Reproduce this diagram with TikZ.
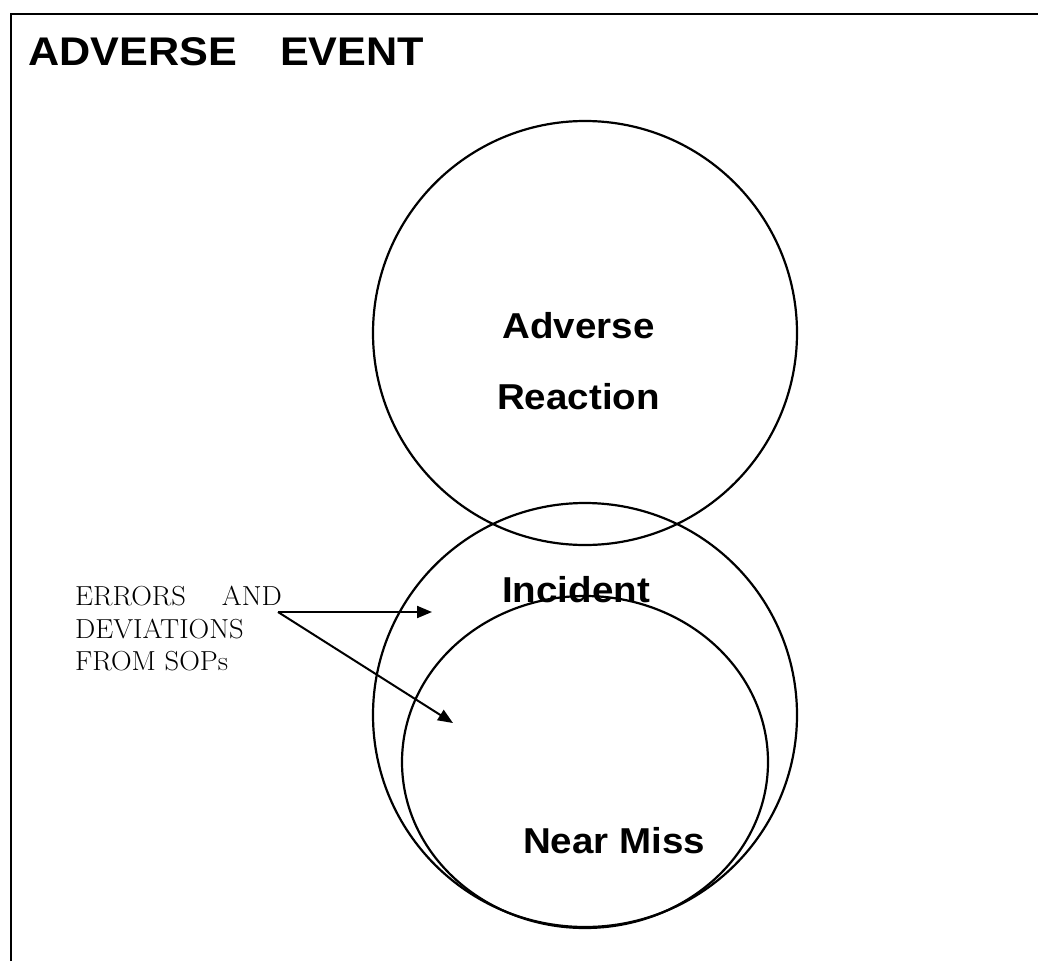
\documentclass[tikz,border=0pt]{standalone}
\usepackage{fontspec}
\newfontfamily\labfont[FakeStretch=1.07]{Liberation Sans}
\newfontfamily\titfont[FakeStretch=1.08]{Liberation Sans}
\newfontfamily\notefont[FakeStretch=1.04]{Latin Modern Roman}
\usetikzlibrary{arrows.meta,shapes.geometric}
\tikzset{
  ring/.style={draw, line width=2.2pt, inner sep=0pt},
  lab/.style={inner sep=0pt, anchor=base, font=\labfont\bfseries\fontsize{36}{40}\selectfont},
  note/.style={inner sep=0pt, anchor=base west, font=\notefont\fontsize{27.5}{30}\selectfont},
  arr/.style={line width=2pt, -{Triangle[length=15pt,width=12pt]}},
  frame/.style={line width=2.2pt}
}
\begin{document}
\begin{tikzpicture}[x=1pt,y=-1pt]
\useasboundingbox (0,0) rectangle (1038,961);
% frame
\draw[frame] (11,961) -- (11,14) -- (1038,14);
% title
\node[inner sep=0pt, anchor=base west, font=\titfont\bfseries\fontsize{40}{44}\selectfont] (title) at (28,65) {ADVERSE\hspace{43pt}EVENT};
% circles
\node[ring, circle, minimum size=424pt] (ar) at (585,333) {};
\node[ring, circle, minimum size=424pt] (inc) at (585,715) {};
\node[ring, ellipse, minimum width=366pt, minimum height=332pt] (nm) at (585,762) {};
% labels
\node[lab] (l1) at (578.5,338) {Adverse};
\node[lab] (l2) at (578.5,409) {Reaction};
\node[lab] (l3) at (576,602) {Incident};
\node[lab] (l4) at (614,853) {Near Miss};
% left note
\node[note] (n1) at (75,605) {ERRORS\hspace{36pt}AND};
\node[note] (n2) at (75,638) {DEVIATIONS};
\node[note] (n3) at (75,670) {FROM SOPs};
% arrows
\coordinate (src) at (278,612);
\coordinate (t1) at (432,612);
\coordinate (t2) at (453,723);
\draw[arr] (src) -- (t1);
\draw[arr] (src) -- (t2);
\end{tikzpicture}
\end{document}
